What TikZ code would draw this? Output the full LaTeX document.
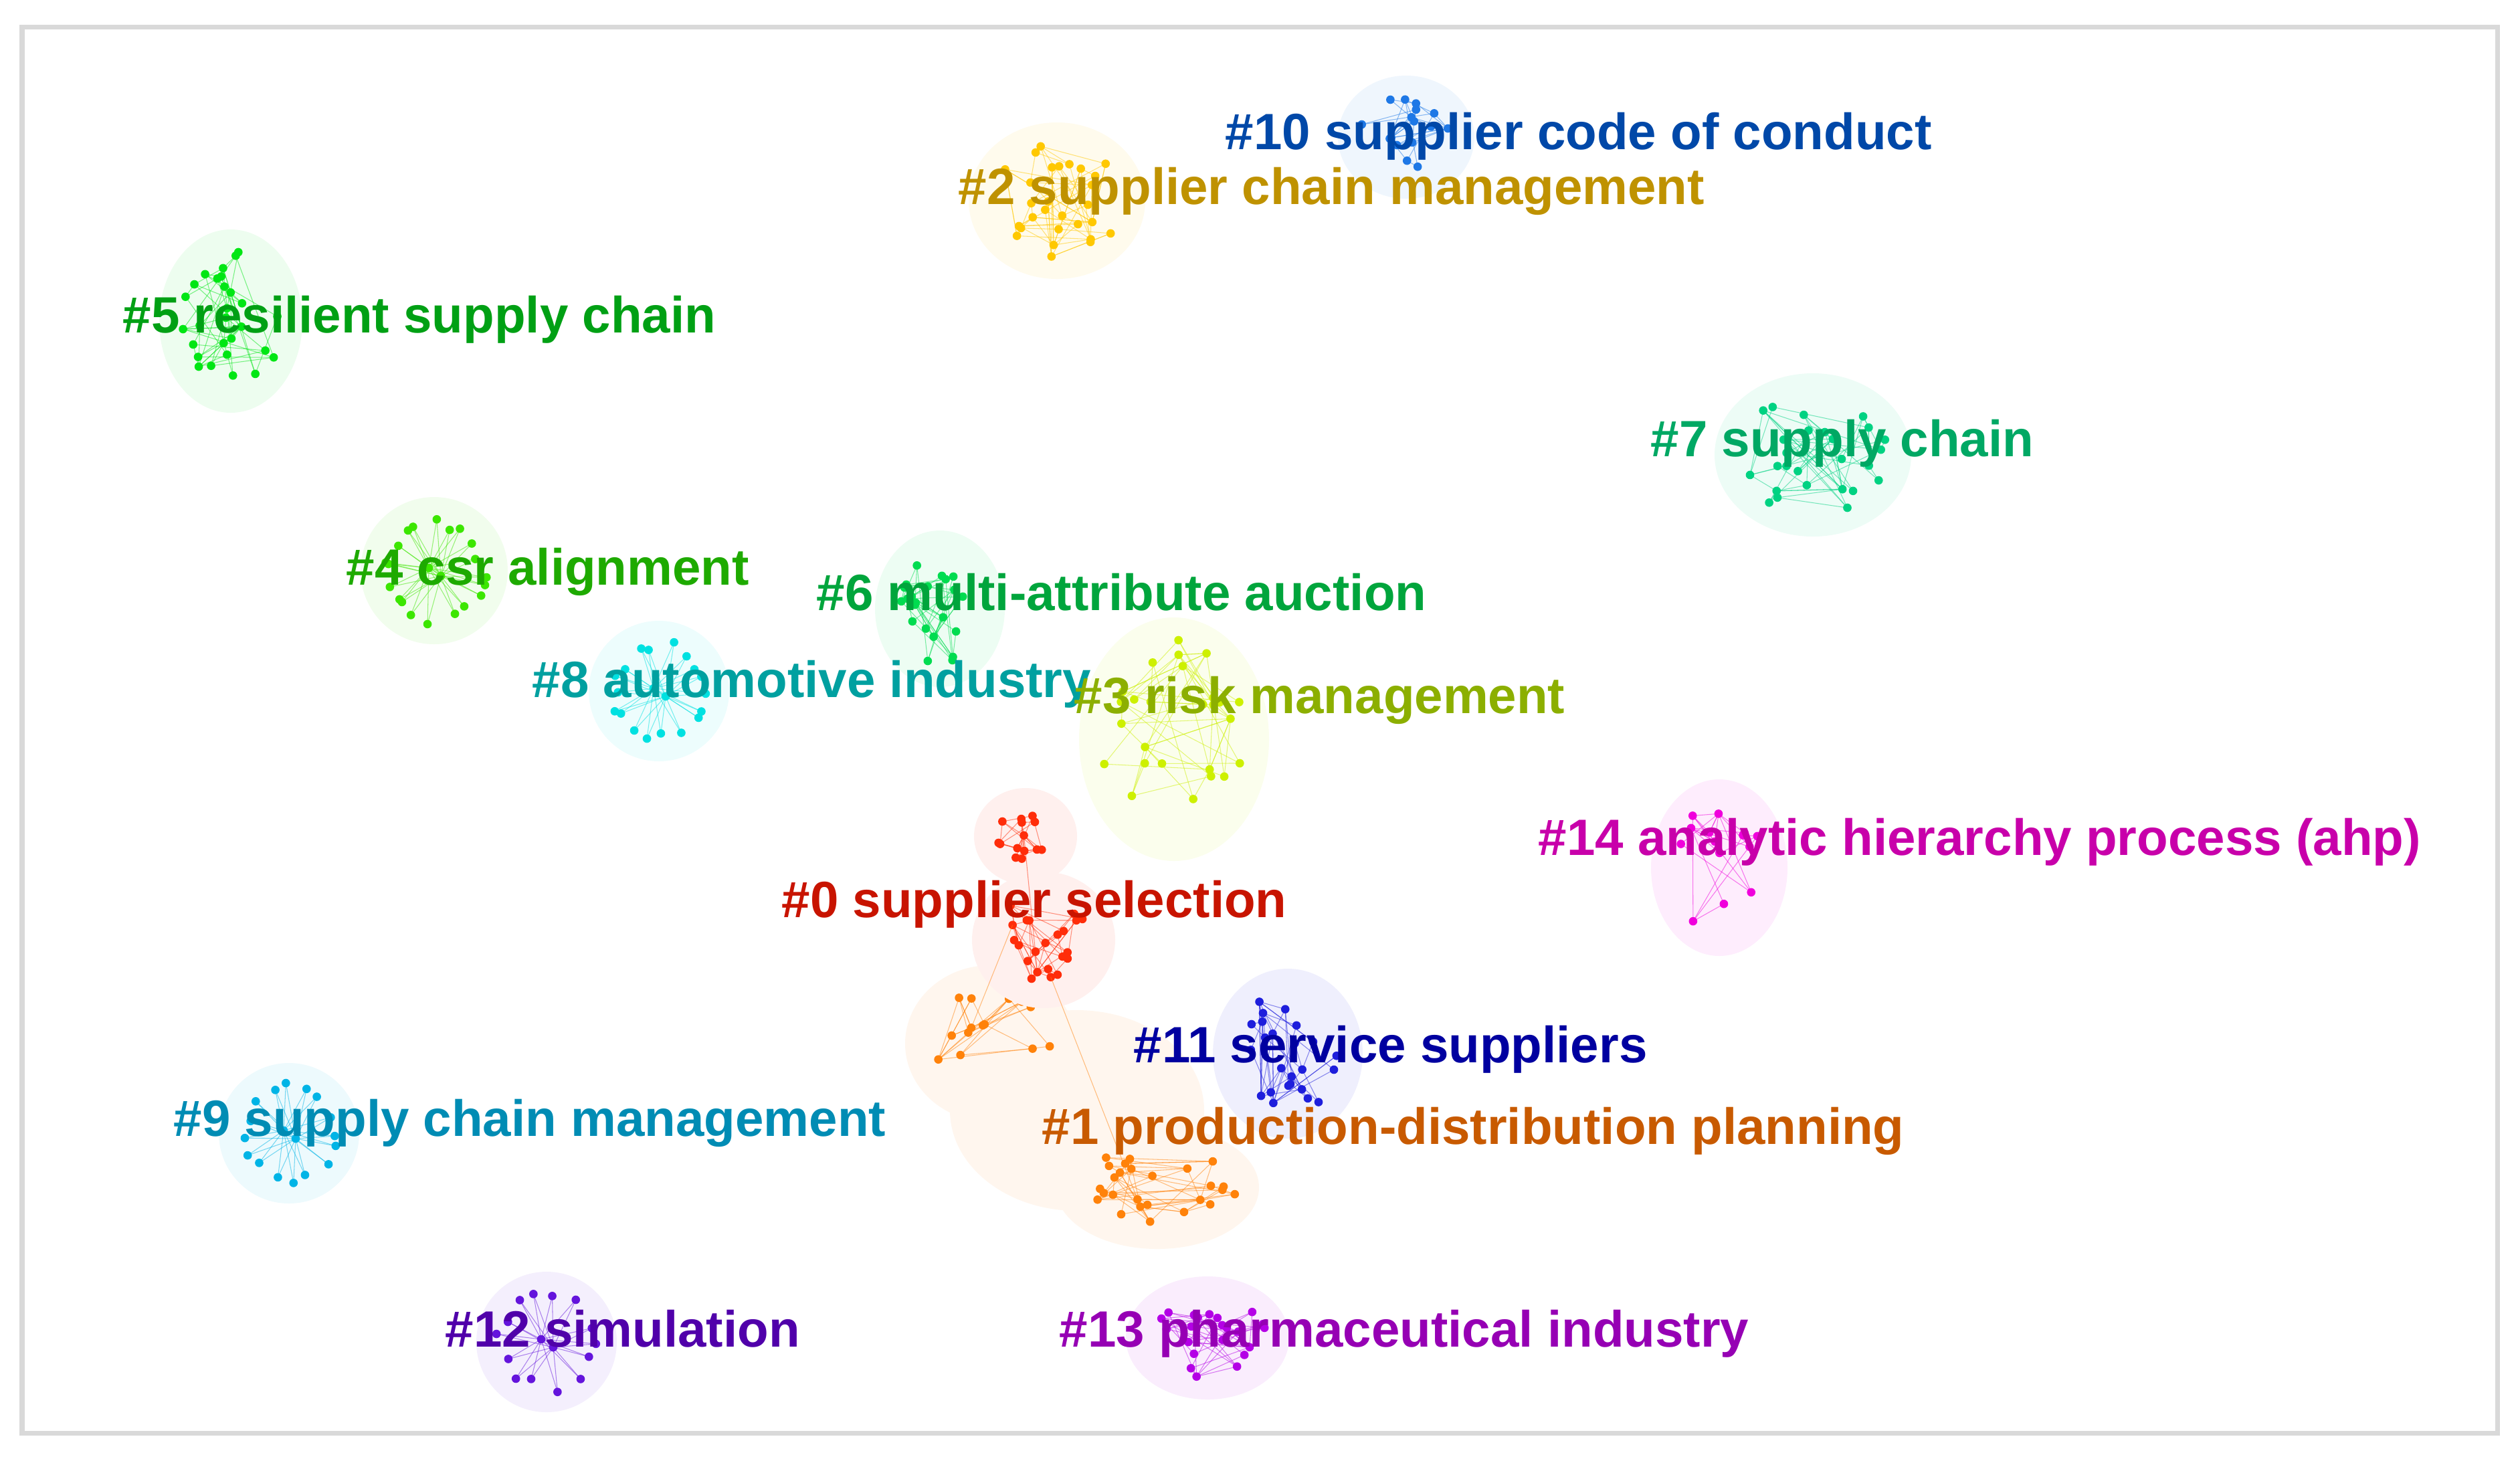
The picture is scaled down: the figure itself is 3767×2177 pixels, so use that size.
\documentclass[tikz,border=0pt]{standalone}
\usepackage{fontspec}
\setmainfont{Liberation Sans}
\usetikzlibrary{calc}

\definecolor{framegray}{RGB}{217,217,217}
% label colours and node colours of the clusters
\definecolor{lab0}{RGB}{200,20,0}    \definecolor{dot0}{RGB}{255,45,10}
\definecolor{lab1}{RGB}{200,90,0}    \definecolor{dot1}{RGB}{255,130,10}
\definecolor{lab2}{RGB}{191,146,0}   \definecolor{dot2}{RGB}{255,200,0}
\definecolor{lab3}{RGB}{140,175,0}   \definecolor{dot3}{RGB}{205,240,0}
\definecolor{lab4}{RGB}{30,170,0}    \definecolor{dot4}{RGB}{60,230,0}
\definecolor{lab5}{RGB}{0,160,20}    \definecolor{dot5}{RGB}{0,230,20}
\definecolor{lab6}{RGB}{0,165,60}    \definecolor{dot6}{RGB}{0,220,80}
\definecolor{lab7}{RGB}{0,168,100}   \definecolor{dot7}{RGB}{0,210,130}
\definecolor{lab8}{RGB}{0,160,160}   \definecolor{dot8}{RGB}{0,225,225}
\definecolor{lab9}{RGB}{0,140,180}   \definecolor{dot9}{RGB}{0,180,230}
\definecolor{lab10}{RGB}{0,72,168}   \definecolor{dot10}{RGB}{30,120,230}
\definecolor{lab11}{RGB}{0,0,160}    \definecolor{dot11}{RGB}{30,30,220}
\definecolor{lab12}{RGB}{80,0,170}   \definecolor{dot12}{RGB}{100,20,220}
\definecolor{lab13}{RGB}{150,0,180}  \definecolor{dot13}{RGB}{180,0,230}
\definecolor{lab14}{RGB}{200,0,170}  \definecolor{dot14}{RGB}{240,0,220}

\tikzset{
  clabel/.style={font=\bfseries\fontsize{21.7}{22}\selectfont, inner sep=0pt, anchor=base west},
  netdot/.style={fill=#1},
  netlink/.style={draw=#1, line width=0.3pt, opacity=0.5},
  netblob/.style={fill=#1!7},
}

% loose cluster: name, x, y, rx, ry, n, colour, seed
\newcommand{\scatternet}[8]{%
  \fill[netblob=#7] (#2,#3) ellipse [x radius=#4+32, y radius=#5+32];
  \pgfmathsetseed{#8}
  \foreach \k in {1,...,#6}{
    \pgfmathsetmacro{\angA}{360*rnd}
    \pgfmathsetmacro{\radA}{sqrt(rnd)}
    \coordinate (#1-\k) at ({#2+#4*\radA*cos(\angA)},{#3+#5*\radA*sin(\angA)});
    \ifnum\k>1
      \pgfmathtruncatemacro{\nbA}{1+rnd*(\k-1)}
      \pgfmathtruncatemacro{\nbB}{1+rnd*(\k-1)}
      \draw[netlink=#7] (#1-\k) -- (#1-\nbA);
      \draw[netlink=#7] (#1-\k) -- (#1-\nbB);
    \fi
  }
  \foreach \k in {1,...,#6}{\fill[netdot=#7] (#1-\k) circle [radius=1.8pt];}
}

% star cluster: name, x, y, r, n, colour, seed
\newcommand{\starnet}[7]{%
  \fill[netblob=#6] (#2,#3) circle [radius=#4+35];
  \pgfmathsetseed{#7}
  \coordinate (#1-hubA) at (#2-8,#3-4);
  \coordinate (#1-hubB) at (#2+10,#3+8);
  \foreach \k in {1,...,#5}{
    \pgfmathsetmacro{\angA}{360*\k/#5+10*rand}
    \pgfmathsetmacro{\radA}{#4*(0.85+0.25*rnd)}
    \coordinate (#1-\k) at ({#2+\radA*cos(\angA)},{#3+\radA*sin(\angA)});
    \draw[netlink=#6] (#1-\k) -- (#1-hubA);
    \draw[netlink=#6] (#1-\k) -- (#1-hubB);
  }
  \foreach \k in {1,...,#5}{\fill[netdot=#6] (#1-\k) circle [radius=1.8pt];}
  \fill[netdot=#6] (#1-hubA) circle [radius=1.8pt] (#1-hubB) circle [radius=1.8pt];
}

\begin{document}
\begin{tikzpicture}[x=0.01cm, y=-0.01cm]
\useasboundingbox (0,0) rectangle (3767,2177);
\draw[draw=framegray, line width=2pt] (33,40) rectangle (3733,2142);

% clusters
\fill[netblob=dot1] (1610,1660) ellipse [x radius=190, y radius=150];
\scatternet{c10}{2102}{205}{70}{60}{16}{dot10}{10}
\scatternet{c2}{1580}{300}{100}{85}{28}{dot2}{2}
\scatternet{c5}{345}{480}{75}{105}{28}{dot5}{5}
\scatternet{c7}{2710}{680}{115}{90}{26}{dot7}{7}
\starnet{c4}{649}{853}{75}{20}{dot4}{4}
\scatternet{c6}{1405}{910}{65}{85}{22}{dot6}{6}
\starnet{c8}{985}{1033}{70}{18}{dot8}{8}
\scatternet{c3}{1755}{1105}{110}{150}{26}{dot3}{3}
\scatternet{c14}{2570}{1297}{70}{100}{14}{dot14}{14}
\scatternet{c1a}{1480}{1560}{95}{85}{14}{dot1}{21}
\scatternet{c1b}{1730}{1775}{120}{60}{26}{dot1}{22}
\scatternet{c0a}{1533}{1250}{45}{40}{14}{dot0}{31}
\scatternet{c0b}{1560}{1405}{75}{70}{22}{dot0}{32}
\draw[netlink=dot0] (c0a-1) -- (c0b-1);
\draw[netlink=dot1] (c0b-2) -- (c1a-1) (c0b-3) -- (c1b-1);
\scatternet{c11}{1925}{1575}{80}{95}{24}{dot11}{11}
\starnet{c9}{432}{1694}{70}{16}{dot9}{9}
\starnet{c12}{817}{2006}{70}{14}{dot12}{12}
\scatternet{c13}{1805}{2000}{90}{60}{22}{dot13}{13}

% labels
\node[clabel, text=lab10] (l10) at (1831,223) {\#10 supplier code of conduct};
\node[clabel, text=lab2] (l2) at (1432,305) {\#2 supplier chain management};
\node[clabel, text=lab5] (l5) at (183,497) {\#5 resilient supply chain};
\node[clabel, text=lab7] (l7) at (2467,682) {\#7 supply chain};
\node[clabel, text=lab4] (l4) at (517,874) {\#4 csr alignment};
\node[clabel, text=lab6] (l6) at (1220,912) {\#6 multi-attribute auction};
\node[clabel, text=lab8] (l8) at (795,1042) {\#8 automotive industry};
\node[clabel, text=lab3] (l3) at (1605,1066) {\#3 risk management};
\node[clabel, text=lab14] (l14) at (2299,1278) {\#14 analytic hierarchy process (ahp)};
\node[clabel, text=lab0] (l0) at (1168,1371) {\#0 supplier selection};
\node[clabel, text=lab11] (l11) at (1694,1588) {\#11 service suppliers};
\node[clabel, text=lab9] (l9) at (259,1698) {\#9 supply chain management};
\node[clabel, text=lab1] (l1) at (1557,1710) {\#1 production-distribution planning};
\node[clabel, text=lab12] (l12) at (665,2013) {\#12 simulation};
\node[clabel, text=lab13] (l13) at (1583,2013) {\#13 pharmaceutical industry};
\end{tikzpicture}
\end{document}
